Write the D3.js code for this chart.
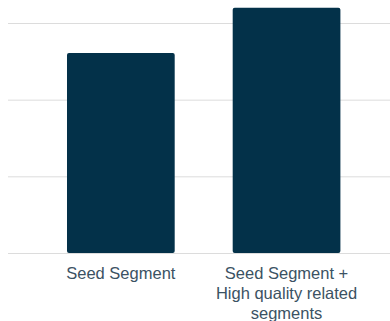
<!DOCTYPE html>
<html>
<head>
<meta charset="utf-8">
<script src="https://cdn.jsdelivr.net/npm/d3@7"></script>
<style>
  body { margin: 0; background: #fff; }
  svg { display: block; }
  .cat-label { font-family: "Liberation Sans", Arial, sans-serif; font-size: 16.5px; fill: #3b5263; }
</style>
</head>
<body>
<div id="chart"></div>
<script>
// data
var categories = ["Seed Segment", "Seed Segment + High quality related segments"];
var labelLines = [["Seed Segment"], ["Seed Segment +", "High quality related", "segments"]];
var values = [2.61, 3.2];
var gridValues = [0, 1, 2, 3];

var width = 390, height = 321;

var svg = d3.select("#chart")
  .append("svg")
  .attr("width", width)
  .attr("height", height);

var xScale = d3.scaleBand()
  .domain(categories)
  .range([38, 369.4])
  .paddingInner(0.35)
  .paddingOuter(0.175);

var yScale = d3.scaleLinear()
  .domain([0, 3])
  .range([253, 23]);

// gridlines
svg.selectAll(".grid")
  .data(gridValues)
  .enter()
  .append("line")
  .attr("class", "grid")
  .attr("x1", 8)
  .attr("x2", width)
  .attr("y1", function(d) { return yScale(d) + 0.5; })
  .attr("y2", function(d) { return yScale(d) + 0.5; })
  .attr("stroke", "#dcdcdc")
  .attr("stroke-width", 1);

// bars
svg.selectAll(".bar")
  .data(values)
  .enter()
  .append("rect")
  .attr("class", "bar")
  .attr("x", function(d, i) { return xScale(categories[i]); })
  .attr("y", function(d) { return yScale(d); })
  .attr("width", xScale.bandwidth())
  .attr("height", function(d) { return yScale(0) - yScale(d); })
  .attr("rx", 2)
  .attr("fill", "#033149");

// category labels
var labels = svg.selectAll(".cat-label")
  .data(labelLines)
  .enter()
  .append("text")
  .attr("class", "cat-label")
  .attr("text-anchor", "middle")
  .attr("x", function(d, i) { return xScale(categories[i]) + xScale.bandwidth() / 2; })
  .attr("y", 278.5);

labels.selectAll("tspan")
  .data(function(d) { return d; })
  .enter()
  .append("tspan")
  .attr("x", function() { return d3.select(this.parentNode).attr("x"); })
  .attr("dy", function(d, i) { return i === 0 ? 0 : 20.3; })
  .text(function(d) { return d; });
</script>
</body>
</html>
